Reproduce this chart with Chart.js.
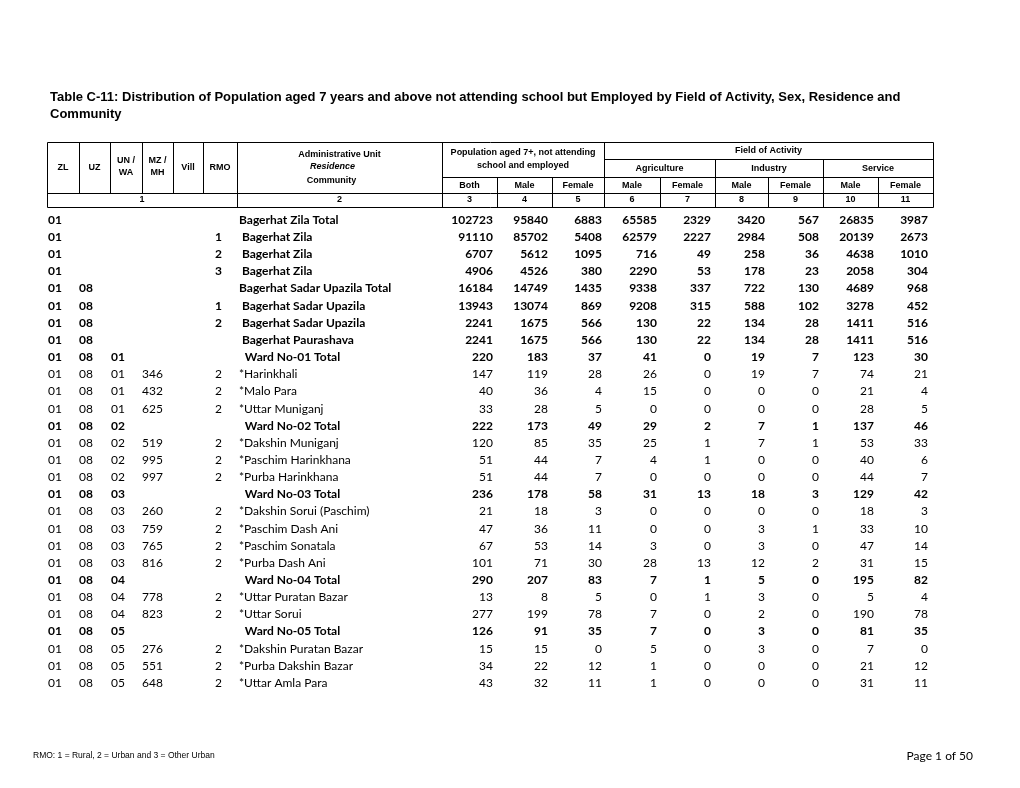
<!DOCTYPE html>
<html><head><meta charset="utf-8">
<script src="https://cdn.jsdelivr.net/npm/chart.js@4/dist/chart.umd.min.js"></script>
<style>html,body{margin:0;padding:0;background:#fff;}canvas{display:block;}</style>
</head><body>
<canvas id="c" width="1020" height="788"></canvas>
<script>
const titleLines = ["Table C-11: Distribution of Population aged 7 years and above not attending school but Employed by Field of Activity, Sex, Residence and", "Community"];
const codesZL = ["01","01","01","01","01","01","01","01","01","01","01","01","01","01","01","01","01","01","01","01","01","01","01","01","01","01","01","01"];
const codesUZ = ["","","","","08","08","08","08","08","08","08","08","08","08","08","08","08","08","08","08","08","08","08","08","08","08","08","08"];
const codesUN = ["","","","","","","","","01","01","01","01","02","02","02","02","03","03","03","03","03","04","04","04","05","05","05","05"];
const codesMZ = ["","","","","","","","","","346","432","625","","519","995","997","","260","759","765","816","","778","823","","276","551","648"];
const codesRMO = ["","1","2","3","","1","2","","","2","2","2","","2","2","2","","2","2","2","2","","2","2","","2","2","2"];
const unitNames = ["Bagerhat Zila Total"," Bagerhat Zila"," Bagerhat Zila"," Bagerhat Zila","Bagerhat Sadar Upazila Total"," Bagerhat Sadar Upazila"," Bagerhat Sadar Upazila"," Bagerhat Paurashava","  Ward No-01 Total","*Harinkhali","*Malo Para","*Uttar Muniganj","  Ward No-02 Total","*Dakshin Muniganj","*Paschim Harinkhana","*Purba Harinkhana","  Ward No-03 Total","*Dakshin Sorui (Paschim)","*Paschim Dash Ani","*Paschim Sonatala","*Purba Dash Ani","  Ward No-04 Total","*Uttar Puratan Bazar","*Uttar Sorui","  Ward No-05 Total","*Dakshin Puratan Bazar","*Purba Dakshin Bazar","*Uttar Amla Para"];
const boldRows = [1,1,1,1,1,1,1,1,1,0,0,0,1,0,0,0,1,0,0,0,0,1,0,0,1,0,0,0];
const popBoth   = [102723,91110,6707,4906,16184,13943,2241,2241,220,147,40,33,222,120,51,51,236,21,47,67,101,290,13,277,126,15,34,43];
const popMale   = [95840,85702,5612,4526,14749,13074,1675,1675,183,119,36,28,173,85,44,44,178,18,36,53,71,207,8,199,91,15,22,32];
const popFemale = [6883,5408,1095,380,1435,869,566,566,37,28,4,5,49,35,7,7,58,3,11,14,30,83,5,78,35,0,12,11];
const agriMale   = [65585,62579,716,2290,9338,9208,130,130,41,26,15,0,29,25,4,0,31,0,0,3,28,7,0,7,7,5,1,1];
const agriFemale = [2329,2227,49,53,337,315,22,22,0,0,0,0,2,1,1,0,13,0,0,0,13,1,1,0,0,0,0,0];
const indMale    = [3420,2984,258,178,722,588,134,134,19,19,0,0,7,7,0,0,18,0,3,3,12,5,3,2,3,3,0,0];
const indFemale  = [567,508,36,23,130,102,28,28,7,7,0,0,1,1,0,0,3,0,1,0,2,0,0,0,0,0,0,0];
const servMale   = [26835,20139,4638,2058,4689,3278,1411,1411,123,74,21,28,137,53,40,44,129,18,33,47,31,195,5,190,81,7,21,31];
const servFemale = [3987,2673,1010,304,968,452,516,516,30,21,4,5,46,33,6,7,42,3,10,14,15,82,4,78,35,0,12,11];
const headCodes = ["ZL","UZ","UN /\nWA","MZ /\nMH","Vill","RMO"];
const headSex = ["Both","Male","Female","Male","Female","Male","Female","Male","Female"];
const headFields = ["Agriculture","Industry","Service"];
const headNumbers = ["1","2","3","4","5","6","7","8","9","10","11"];
const footNote = "RMO: 1 = Rural, 2 = Urban and 3 = Other Urban";
const pageLabel = "Page 1 of 50";

// ---- Layout (positions, not data) ----
const colEdges = [47,79,110,142,173,203,237,442,497,552,604,660,715,768,823,878,933];
const firstRowY = 220, rowStep = 17.15;
const H = {top:142, field:159, sub:177, num:193, bottom:207};
const dataFont = "Lato, 'Open Sans', sans-serif";
const headFont = "'Liberation Sans', Arial, sans-serif";

function pts(xPos){ return codesZL.map((_,i)=>({x:xPos, y:i})); }
const textCols = [
  {labels:codesZL, x:48, align:'left'},
  {labels:codesUZ, x:79, align:'left'},
  {labels:codesUN, x:111, align:'left'},
  {labels:codesMZ, x:142, align:'left'},
  {labels:codesRMO, x:222, align:'right'},
  {labels:unitNames, x:239, align:'left'}
];
const numCols = [popBoth,popMale,popFemale,agriMale,agriFemale,indMale,indFemale,servMale,servFemale];
const numRight = [493,548,602,657,711,765,819,874,928];
const datasets = [];
textCols.forEach(c=>datasets.push({data:pts(c.x), labels:c.labels, align:c.align, pointRadius:0, showLine:false}));
numCols.forEach((arr,k)=>datasets.push({data:pts(numRight[k]), labels:arr.map(String), align:'right', pointRadius:0, showLine:false}));

const tablePlugin = {
  id:'tablePlugin',
  beforeDraw(chart){
    const ctx=chart.ctx; ctx.save(); ctx.fillStyle='#fff'; ctx.fillRect(0,0,chart.width,chart.height); ctx.restore();
  },
  afterDatasetsDraw(chart){
    const ctx=chart.ctx, xs=chart.scales.x, yp=chart.scales.yPage;
    const X=v=>xs.getPixelForValue(v), Y=v=>yp.getPixelForValue(v);
    ctx.save();
    ctx.fillStyle='#000'; ctx.textBaseline='middle';
    // title
    ctx.font="bold 13px 'Liberation Sans Narrow', 'Liberation Sans', Arial, sans-serif";
    ctx.textAlign='left';
    ctx.fillText(titleLines[0], X(50), Y(97));
    ctx.fillText(titleLines[1], X(50), Y(114));
    // header grid
    ctx.strokeStyle='#000'; ctx.lineWidth=1;
    const line=(x1,y1,x2,y2)=>{ctx.beginPath();ctx.moveTo(Math.round(X(x1))+0.5,Math.round(Y(y1))+0.5);ctx.lineTo(Math.round(X(x2))+0.5,Math.round(Y(y2))+0.5);ctx.stroke();};
    const E=colEdges;
    line(E[0],H.top,E[16],H.top);
    line(E[0],H.bottom,E[16],H.bottom);
    line(E[0],H.num,E[16],H.num);
    line(E[7],H.sub,E[16],H.sub);
    line(E[10],H.field,E[16],H.field);
    line(E[0],H.top,E[0],H.bottom);
    line(E[16],H.top,E[16],H.bottom);
    for(let k=1;k<=5;k++) line(E[k],H.top,E[k],H.num);
    line(E[6],H.top,E[6],H.bottom);
    line(E[7],H.top,E[7],H.bottom);
    line(E[10],H.top,E[10],H.bottom);
    [8,9,11,13,15].forEach(k=>line(E[k],H.sub,E[k],H.bottom));
    [12,14].forEach(k=>line(E[k],H.field,E[k],H.bottom));
    // header texts
    ctx.textAlign='center';
    const hf="bold 9px "+headFont;
    ctx.font=hf;
    headCodes.forEach((t,k)=>{
      const cx=(X(E[k])+X(E[k+1]))/2;
      const parts=t.split('\n');
      if(parts.length===1) ctx.fillText(parts[0],cx,Y(168));
      else {ctx.fillText(parts[0],cx,Y(161)); ctx.fillText(parts[1],cx,Y(173));}
    });
    const acx=(X(E[6])+X(E[7]))/2;
    ctx.fillText("Administrative Unit",acx,Y(155));
    ctx.font="bold italic 9px "+headFont;
    ctx.fillText("Residence",acx-7,Y(167));
    ctx.font=hf;
    ctx.fillText("Community",acx-8,Y(181));
    const pcx=(X(E[7])+X(E[10]))/2;
    ctx.fillText("Population aged 7+, not attending",pcx,Y(153));
    ctx.fillText("school and employed",pcx,Y(166));
    ctx.fillText("Field of Activity",(X(E[10])+X(E[16]))/2,Y(151));
    headFields.forEach((t,k)=>ctx.fillText(t,(X(E[10+2*k])+X(E[12+2*k]))/2,Y(168.5)));
    headSex.forEach((t,k)=>ctx.fillText(t,(X(E[7+k])+X(E[8+k]))/2,Y(185.5)));
    ctx.fillText(headNumbers[0],(X(E[0])+X(E[6]))/2,Y(200));
    ctx.fillText(headNumbers[1],(X(E[6])+X(E[7]))/2,Y(200));
    for(let k=2;k<headNumbers.length;k++) ctx.fillText(headNumbers[k],(X(E[k+5])+X(E[k+6]))/2,Y(200));
    // cells
    chart.data.datasets.forEach((ds,di)=>{
      const meta=chart.getDatasetMeta(di);
      ctx.textAlign=ds.align;
      meta.data.forEach((el,i)=>{
        const t=ds.labels[i]; if(t==='') return;
        ctx.font=(boldRows[i]?'bold ':'')+"12px "+dataFont;
        ctx.fillText(t,el.x,el.y);
      });
    });
    // footer
    ctx.textAlign='left';
    ctx.font="8.5px 'Liberation Sans Narrow', 'Liberation Sans', Arial, sans-serif";
    ctx.fillText(footNote,X(33),Y(756));
    ctx.textAlign='right';
    ctx.font="12px "+dataFont;
    ctx.fillText(pageLabel,X(973),Y(756));
    ctx.restore();
  }
};

new Chart(document.getElementById('c'),{
  type:'scatter',
  data:{datasets},
  options:{
    responsive:false, animation:false, events:[],
    layout:{padding:0},
    plugins:{legend:{display:false},tooltip:{enabled:false},title:{display:false}},
    scales:{
      x:{type:'linear',min:0,max:1020,display:false},
      y:{type:'linear',min:-firstRowY/rowStep,max:(788-firstRowY)/rowStep,reverse:true,display:false},
      yPage:{type:'linear',min:0,max:788,reverse:true,display:false}
    }
  },
  plugins:[tablePlugin]
});
</script>
</body></html>
